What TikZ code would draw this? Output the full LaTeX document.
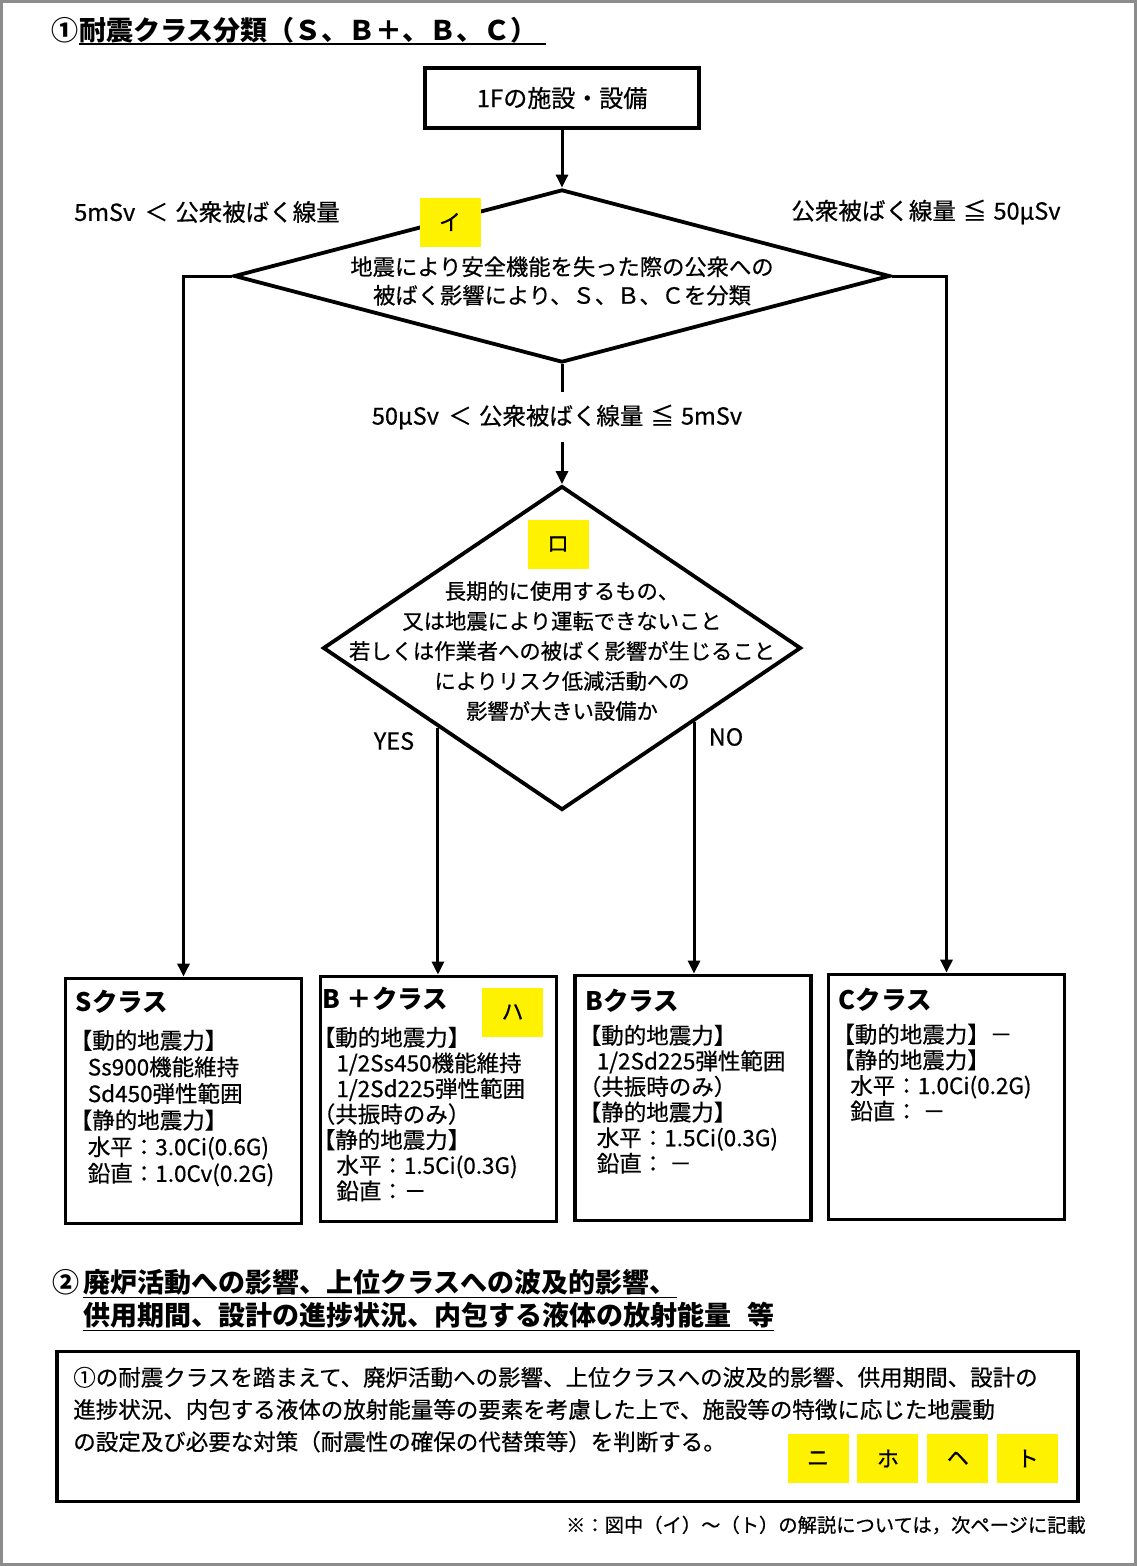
\documentclass[tikz,border=0pt]{standalone}
\usepackage{fontspec}
\setmainfont{Noto Sans CJK JP}[UprightFeatures={FakeBold=0.6}]
\usepackage{tikz}
\usetikzlibrary{calc,arrows.meta,positioning,shapes}

\definecolor{framegray}{RGB}{140,140,140}
\newcommand\ulin[2][6pt]{\setbox0=\hbox{#2}\rlap{\rule[-#1]{\wd0}{1.8pt}}\box0}

\begin{document}
\begin{tikzpicture}[x=1pt,y=-1pt,
	box/.style={draw,line width=3.8pt,inner sep=0pt},
	cls/.style={box,minimum width=236pt,minimum height=245pt},
	dia/.style={draw,diamond,line width=3.8pt,inner sep=0pt},
	tag/.style={fill=yellow,minimum width=61pt,minimum height=49pt,inner sep=0pt,font=\fontsize{22}{22}\selectfont},
	hd/.style={inner sep=0pt,font=\bfseries\fontsize{25.5}{25.5}\selectfont},
	txt/.style={inner sep=0pt,align=left,font=\fontsize{22.5}{25.6}\selectfont},
	lbl/.style={inner sep=0pt,font=\fontsize{23.5}{23.5}\selectfont},
	arr/.style={line width=3pt,-{Triangle[length=13pt,width=12pt]}}]

	\useasboundingbox (0,0) rectangle (1137,1566);
	\draw[framegray,line width=3pt] (1.5,1.5) rectangle (1135.5,1564.5);

	\node[anchor=west,inner sep=0pt,font=\bfseries\fontsize{27}{27}\selectfont] (0) at (51,31)
	{①\hspace{1pt}\ulin[5pt]{耐震クラス分類（Ｓ、Ｂ＋、Ｂ、Ｃ）\hspace{.3em}}};

	\node[box,minimum width=274pt,minimum height=60pt,font=\fontsize{24}{24}\selectfont] (1) at (562,98)
	{1Fの施設・設備};

	\node[dia,minimum width=656pt,minimum height=173pt] (2) at (562,276) {};
	\node[lbl,align=center,font=\fontsize{22.3}{28.5}\selectfont] (2t) at (562,281)
	{地震により安全機能を失った際の公衆への\\被ばく影響により、Ｓ、Ｂ、Ｃを分類};
	\node[tag] (2y) at (450,222) {イ};
	\node[lbl] (2l) at (207,212) {5mSv\hspace{.4em}＜\hspace{.3em}公衆被ばく線量};
	\node[lbl] (2r) at (926,212) {公衆被ばく線量\hspace{.3em}≦\hspace{.3em}50μSv};
	\node[lbl,inner ysep=13pt] (2m) at (557,417) {50μSv\hspace{.4em}＜\hspace{.3em}公衆被ばく線量\hspace{.3em}≦\hspace{.3em}5mSv};

	\node[dia,minimum width=478pt,minimum height=324pt] (3) at (562,648) {};
	\node[tag] (3y) at (558,544) {ロ};
	\node[lbl,align=center,font=\fontsize{21.3}{30}\selectfont] (3t) at (562,651)
	{長期的に使用するもの、\\又は地震により運転できないこと\\若しくは作業者への被ばく影響が生じること\\によりリスク低減活動への\\影響が大きい設備か};
	\node[lbl] (3a) at (394,741) {YES};
	\node[lbl] (3b) at (726,737) {NO};

	\node[cls] (4) at (183.5,1101) {};
	\node[cls] (5) at (438.5,1099) {};
	\node[cls] (6) at (693,1098) {};
	\node[cls] (7) at (946.5,1097) {};

	\node[hd,below right=13pt and 12pt of 4.north west] (4h) {Sクラス};
	\node[txt,font=\fontsize{22.5}{26.6}\selectfont,below right=53pt and 6pt of 4.north west] (4b)
	{【動的地震力】\\\hspace*{.8em}Ss900機能維持\\\hspace*{.8em}Sd450弾性範囲\\【静的地震力】\\\hspace*{.8em}水平：3.0Ci(0.6G)\\\hspace*{.8em}鉛直：1.0Cv(0.2G)};

	\node[hd,below right=12pt and 4pt of 5.north west] (5h) {B\hspace{.25em}＋クラス};
	\node[tag] (5y) at (512.5,1012) {ハ};
	\node[txt,below right=52pt and -6pt of 5.north west] (5b)
	{【動的地震力】\\\hspace*{1.05em}1/2Ss450機能維持\\\hspace*{1.05em}1/2Sd225弾性範囲\\（共振時のみ）\\【静的地震力】\\\hspace*{1.05em}水平：1.5Ci(0.3G)\\\hspace*{1.05em}鉛直：－};

	\node[hd,below right=15pt and 12pt of 6.north west] (6h) {Bクラス};
	\node[txt,below right=51pt and 5.5pt of 6.north west] (6b)
	{【動的地震力】\\\hspace*{.8em}1/2Sd225弾性範囲\\（共振時のみ）\\【静的地震力】\\\hspace*{.8em}水平：1.5Ci(0.3G)\\\hspace*{.8em}鉛直： －};

	\node[hd,below right=15pt and 12pt of 7.north west] (7h) {Cクラス};
	\node[txt,below right=51pt and 5.5pt of 7.north west] (7b)
	{【動的地震力】－\\【静的地震力】\\\hspace*{.8em}水平：1.0Ci(0.2G)\\\hspace*{.8em}鉛直： －};

	\draw[arr] (1) -- (2);
	\draw[arr] (2.west) -| (4.north);
	\draw[arr] (2.east) -| (7.north);
	\draw[line width=3pt] (2.south) -- (2.south |- 2m.north);
	\draw[arr] (2m.south -| 3.north) -- (3.north);
	\coordinate (3l) at ($(3.west)!.485!(3.south)$);
	\coordinate (3r) at ($(3.east)!.452!(3.south)$);
	\draw[arr] (3l) -- (3l |- 5.north);
	\draw[arr] (3r) -- (3r |- 6.north);

	\node[anchor=north west,inner sep=0pt,align=left,font=\bfseries\fontsize{27}{33}\selectfont] (8) at (52,1269)
	{②\hspace{4pt}\ulin{廃炉活動への影響、上位クラスへの波及的影響、}\\\hphantom{②}\hspace{4pt}\ulin{供用期間、設計の進捗状況、内包する液体の放射能量\hspace{.6em}等}};

	\node[box,minimum width=1021pt,minimum height=150pt] (9) at (567.5,1426.5) {};
	\node[txt,font=\fontsize{22.5}{32.2}\selectfont,below right=17pt and 18pt of 9.north west] (9t)
	{①の耐震クラスを踏まえて、廃炉活動への影響、上位クラスへの波及的影響、供用期間、設計の\\進捗状況、内包する液体の放射能量等の要素を考慮した上で、施設等の特徴に応じた地震動\\の設定及び必要な対策（耐震性の確保の代替策等）を判断する。};
	\node[tag] (9a) at (818,1458.5) {ニ};
	\node[tag] (9b) [right=8.5pt of 9a] {ホ};
	\node[tag] (9c) [right=8.5pt of 9b] {ヘ};
	\node[tag] (9d) [right=8.5pt of 9c] {ト};

	\node[lbl,anchor=east,font=\fontsize{19.3}{19.3}\selectfont] (10) at (1086,1525)
	{※：図中（イ）～（ト）の解説については，次ページに記載};
\end{tikzpicture}
\end{document}
